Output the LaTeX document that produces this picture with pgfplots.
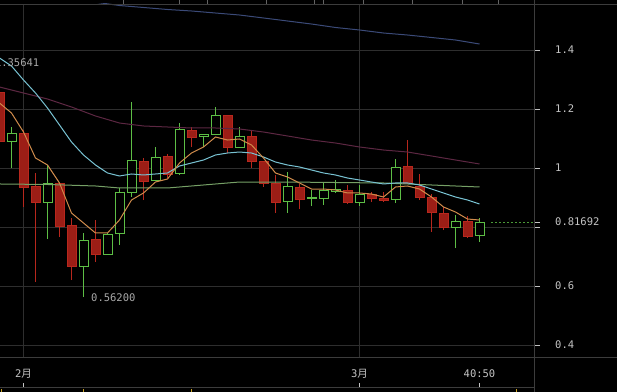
\documentclass[border=0pt]{standalone}
\usepackage{pgfplots}
\pgfplotsset{compat=1.18}
\usepackage{fontspec}
\setmainfont{DejaVu Sans}
\newfontfamily\mono{DejaVu Sans Mono}
\newfontfamily\cjk{Noto Sans CJK SC}
\definecolor{gridc}{HTML}{2E2E2E}
\definecolor{borderc}{HTML}{3C3C3C}
\definecolor{txt}{HTML}{C4C4C4}
\definecolor{lbl}{HTML}{A8A8A8}
\definecolor{redf}{HTML}{9C1E16}
\definecolor{redl}{HTML}{B8271D}
\definecolor{grn}{HTML}{5DBE45}
\definecolor{maor}{HTML}{D08C4C}
\definecolor{macy}{HTML}{78C2D2}
\definecolor{mapu}{HTML}{5C2742}
\definecolor{magr}{HTML}{76A066}
\definecolor{mabl}{HTML}{3B4A78}
\definecolor{ylw}{HTML}{C8A020}
\pgfplotsset{
  R/.style={draw=redl, fill=redf, line width=0.9bp, mark=none, line join=miter},
  RW/.style={draw=redl, line width=0.9bp, mark=none},
  G/.style={draw=grn, fill=black, line width=0.9bp, mark=none, line join=miter},
  GW/.style={draw=grn, line width=0.9bp, mark=none},
}
% #1 style, #2 position, #3 low, #4 body low, #5 body high, #6 high
\newcommand\candle[6]{%
  \pgfmathsetmacro\cLeft{#2-0.375}%
  \pgfmathsetmacro\cRight{#2+0.375}%
  \edef\candletmp{%
    \noexpand\addplot[#1W] coordinates {(#2,#3) (#2,#6)};
    \noexpand\addplot[#1] coordinates {(\cLeft,#4) (\cRight,#4) (\cRight,#5) (\cLeft,#5) (\cLeft,#4)} -- cycle;
  }%
  \candletmp}
\newcommand\cR[5]{\candle{R}{#1}{#2}{#3}{#4}{#5}}
\newcommand\cG[5]{\candle{G}{#1}{#2}{#3}{#4}{#5}}
\newcommand\lf{\mono\fontsize{10.5bp}{12bp}\selectfont}
\begin{document}
\begin{tikzpicture}
\path[use as bounding box, fill=black] (0bp,0bp) rectangle (617bp,392bp);
\begin{axis}[
  at={(0bp,35bp)}, anchor=south west,
  scale only axis, width=534bp, height=353bp,
  xmin=0.041667, xmax=44.541667, ymin=0.35932, ymax=1.55593,
  axis x line=bottom, axis y line=right,
  axis line style={draw=none},
  grid=major, major grid style={gridc, line width=0.8bp},
  xtick={2,30}, xticklabels={{\lf 2\cjk 月},{\lf 3\cjk 月}},
  extra x ticks={40}, extra x tick labels={{\lf 40:50}},
  extra x tick style={grid=none},
  xtick style={draw=none},
  ytick={0.4,0.6,0.8,1,1.2,1.4}, yticklabels={0.4,0.6,,1,1.2,1.4},
  extra y ticks={0.81692}, extra y tick labels={0.81692},
  extra y tick style={grid=none},
  ytick style={draw=txt, line width=0.8bp},
  tick align=outside, major tick length=6bp,
  tick label style={font=\lf, text=txt},
  yticklabel style={anchor=west, inner sep=0pt, xshift=15bp},
  xticklabel style={anchor=center, inner sep=0pt, yshift=-11bp},
]
\cR{0}{1.078}{1.0915}{1.2576}{1.2712}
\cG{1}{1.0}{1.0915}{1.1186}{1.139}
\cR{2}{0.8678}{0.9356}{1.1186}{1.1288}
\cR{3}{0.6136}{0.8847}{0.939}{0.9831}
\cG{4}{0.7593}{0.8847}{0.9492}{1.0102}
\cR{5}{0.7661}{0.8034}{0.9492}{0.9492}
\cR{6}{0.6203}{0.6678}{0.8068}{0.8305}
\cG{7}{0.562}{0.6678}{0.7559}{0.7797}
\cR{8}{0.6814}{0.7085}{0.7593}{0.8237}
\cG{9}{0.7051}{0.7085}{0.7763}{0.7797}
\cG{10}{0.739}{0.7797}{0.9186}{0.9322}
\cG{11}{0.9017}{0.9186}{1.0271}{1.2237}
\cR{12}{0.8915}{0.9559}{1.0237}{1.0339}
\cG{13}{0.9593}{0.9593}{1.0373}{1.0712}
\cR{14}{0.9661}{0.9797}{1.0407}{1.0475}
\cG{15}{0.9763}{0.9831}{1.1322}{1.1525}
\cR{16}{1.0712}{1.1051}{1.1288}{1.139}
\cG{17}{1.0712}{1.1085}{1.1153}{1.1153}
\cG{18}{1.1153}{1.1153}{1.1797}{1.2068}
\cR{19}{1.0508}{1.0712}{1.1797}{1.1797}
\cG{20}{1.0712}{1.0712}{1.1085}{1.139}
\cR{21}{1.0}{1.0237}{1.1085}{1.1254}
\cR{22}{0.9356}{0.9492}{1.0237}{1.0237}
\cR{23}{0.8475}{0.8847}{0.9492}{0.9763}
\cG{24}{0.8475}{0.8881}{0.939}{0.9864}
\cR{25}{0.861}{0.8949}{0.9356}{0.9458}
\cG{26}{0.8712}{0.8983}{0.9017}{0.9254}
\cG{27}{0.8746}{0.8983}{0.9254}{0.9492}
\cG{28}{0.9153}{0.922}{0.9288}{0.9593}
\cR{29}{0.878}{0.8847}{0.9254}{0.9424}
\cG{30}{0.8712}{0.8847}{0.9119}{0.9424}
\cR{31}{0.8847}{0.8983}{0.9119}{0.9186}
\cR{32}{0.8847}{0.8915}{0.8983}{0.9186}
\cG{33}{0.8814}{0.8949}{1.0034}{1.0305}
\cR{34}{0.9492}{0.9492}{1.0068}{1.0949}
\cR{35}{0.8915}{0.9017}{0.939}{0.9797}
\cR{36}{0.7831}{0.8508}{0.9017}{0.9119}
\cR{37}{0.7898}{0.8}{0.8475}{0.8678}
\cG{38}{0.7288}{0.8}{0.8203}{0.8407}
\cR{39}{0.7627}{0.7695}{0.8203}{0.8373}
\cG{40}{0.7492}{0.7729}{0.81692}{0.8305}
% MA lines
\addplot[mabl, line width=1bp, mark=none] coordinates {(8,1.562) (10,1.5508) (12,1.5441) (14,1.5373) (16,1.5322) (18,1.5254) (20,1.5186) (22,1.5085) (24,1.4983) (26,1.4881) (28,1.4763) (30,1.4678) (32,1.4576) (34,1.4508) (36,1.4424) (38,1.4339) (40,1.4203)};
\addplot[mapu, line width=1bp, mark=none] coordinates {(0,1.2746) (2,1.2542) (4,1.2339) (6,1.2068) (8,1.1763) (10,1.1525) (12,1.1424) (14,1.139) (16,1.1356) (18,1.1356) (20,1.1322) (22,1.122) (24,1.1085) (26,1.0949) (28,1.0847) (30,1.0712) (32,1.061) (34,1.0542) (36,1.0407) (38,1.0271) (40,1.0136)};
\addplot[magr, line width=1bp, mark=none] coordinates {(0,0.9458) (4,0.9441) (8,0.939) (10,0.9322) (14,0.9322) (16,0.939) (18,0.9458) (20,0.9525) (24,0.9525) (28,0.9508) (32,0.9492) (36,0.9424) (40,0.9356)};
\addplot[macy, line width=1bp, mark=none] coordinates {(0,1.3729) (1,1.3458) (2,1.2983) (3,1.2542) (4,1.2034) (5,1.1458) (6,1.0881) (7,1.0441) (8,1.0102) (9,0.9831) (10,0.9729) (11,0.9797) (12,0.9763) (13,0.9797) (14,0.9831) (15,1.0068) (16,1.0169) (17,1.0271) (18,1.0441) (19,1.0508) (20,1.0542) (21,1.0508) (22,1.0373) (23,1.0203) (24,1.0102) (25,1.0034) (26,0.9932) (27,0.9831) (28,0.9763) (29,0.9661) (30,0.9593) (31,0.9525) (32,0.9458) (33,0.9492) (34,0.9492) (35,0.9424) (36,0.9288) (37,0.9153) (38,0.9017) (39,0.8915) (40,0.878)};
\addplot[maor, line width=1bp, mark=none] coordinates {(0,1.2203) (1,1.1864) (2,1.122) (3,1.0339) (4,1.0102) (5,0.9492) (6,0.8475) (7,0.8136) (8,0.7797) (9,0.7797) (10,0.8237) (11,0.8915) (12,0.9153) (13,0.9525) (14,0.9627) (15,1.0169) (16,1.0508) (17,1.0712) (18,1.1051) (19,1.0949) (20,1.0983) (21,1.078) (22,1.0339) (23,0.9831) (24,0.9695) (25,0.9492) (26,0.9288) (27,0.9288) (28,0.9254) (29,0.9153) (30,0.9153) (31,0.9119) (32,0.9017) (33,0.9356) (34,0.939) (35,0.9288) (36,0.9017) (37,0.8678) (38,0.8508) (39,0.8271) (40,0.8237)};
% current price line
\addplot[grn!80!black, line width=0.8bp, dash pattern=on 2bp off 2bp, mark=none] coordinates {(40.96,0.81692) (44.6,0.81692)};
\node[anchor=east, inner sep=0pt, text=lbl, font=\lf] at (axis cs:3.33,1.35641) {1.35641};
\node[anchor=west, inner sep=0pt, text=lbl, font=\lf] at (axis cs:7.625,0.562) {0.56200};
\end{axis}
% frame lines
\draw[borderc, line width=0.8bp] (0bp,388bp) -- (617bp,388bp);
\draw[borderc, line width=0.8bp] (0bp,35bp) -- (617bp,35bp);
\draw[borderc, line width=0.8bp] (0bp,5bp) -- (534bp,5bp);
\draw[borderc, line width=0.8bp] (534bp,0bp) -- (534bp,392bp);
\foreach \x in {123,179,207,266,314,323,363,412,462,498} \draw[borderc!80!white, line width=0.8bp] (\x bp,388bp) -- (\x bp,392bp);
\foreach \x in {23.5,359.5,479.5} \draw[txt, line width=0.8bp] (\x bp,5bp) -- (\x bp,9bp);
\foreach \x in {1,83,191,516} \draw[ylw, line width=1bp] (\x bp,0bp) -- (\x bp,2.5bp);
\end{tikzpicture}
\end{document}
